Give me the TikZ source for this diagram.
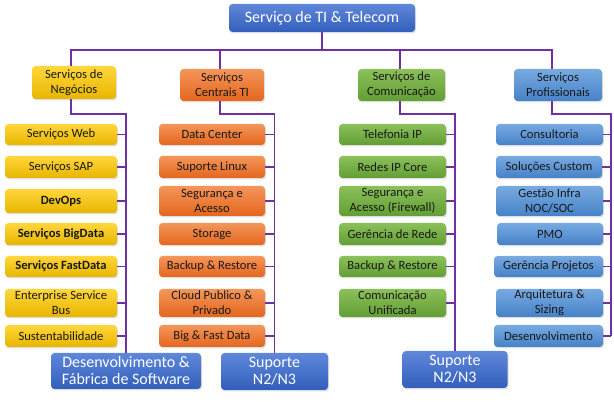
\documentclass[tikz,border=0pt]{standalone}
\usepackage{fontspec}
\setmainfont{Carlito}
\usetikzlibrary{shadows}
\definecolor{wire}{RGB}{112,48,160}
\definecolor{ytop}{RGB}{255,214,60}
\definecolor{ybot}{RGB}{232,182,0}
\definecolor{otop}{RGB}{244,150,90}
\definecolor{obot}{RGB}{228,102,30}
\definecolor{gtop}{RGB}{140,192,90}
\definecolor{gbot}{RGB}{98,158,52}
\definecolor{ltop}{RGB}{120,170,225}
\definecolor{lbot}{RGB}{70,130,200}
\definecolor{dtop}{RGB}{95,135,218}
\definecolor{dbot}{RGB}{50,95,188}
\tikzset{
  box/.style={rounded corners=3.5pt, align=center, inner sep=0pt,
    font=\fontsize{12.6}{15.3}\selectfont, text=black!90,
    drop shadow={opacity=0.25, shadow xshift=1pt, shadow yshift=-1.5pt}},
  ybox/.style={box, top color=ytop, bottom color=ybot},
  obox/.style={box, top color=otop, bottom color=obot},
  gbox/.style={box, top color=gtop, bottom color=gbot},
  lbox/.style={box, top color=ltop, bottom color=lbot},
  dbox/.style={box, top color=dtop, bottom color=dbot, text=white,
    font=\fontsize{16}{17}\selectfont},
  link/.style={draw=wire, line width=1.3pt},
}
\newcommand{\bx}[5]{% style, name, center, width, height
  \node[#1, minimum width=#4pt, minimum height=#5pt] (#2) at #3}
\begin{document}
\begin{tikzpicture}[x=1pt, y=-1pt]
\useasboundingbox (0,0) rectangle (614,406);

% top and second level
\bx{dbox}{top}{(322,18)}{186}{28} {Serviço de TI \& Telecom};
\bx{ybox}{neg}{(74,82.5)}{84}{33} {Serviços de\\Negócios};
\bx{obox}{cen}{(222,85)}{84}{32} {Serviços\\Centrais TI};
\bx{gbox}{com}{(401.5,85)}{87}{32} {Serviços de\\Comunicação};
\bx{lbox}{pro}{(558,85)}{88}{32} {Serviços\\Profissionais};

% business services
\bx{ybox}{y1}{(61,134.5)}{112}{21} {Serviços Web};
\bx{ybox}{y2}{(61,167)}{112}{22} {Serviços SAP};
\bx{ybox}{y3}{(61,201)}{112}{24} {\textbf{DevOps}};
\bx{ybox}{y4}{(61,234)}{112}{22} {\textbf{Serviços BigData}};
\bx{ybox}{y5}{(61,266.5)}{112}{21} {\textbf{Serviços FastData}};
\bx{ybox}{y6}{(61,303)}{112}{28} {Enterprise Service\\Bus};
\bx{ybox}{y7}{(61,336)}{112}{22} {Sustentabilidade};

% central IT services
\bx{obox}{o1}{(212,134.5)}{106}{21} {Data Center};
\bx{obox}{o2}{(212,167)}{106}{22} {Suporte Linux};
\bx{obox}{o3}{(212,201)}{106}{30} {Segurança e\\Acesso};
\bx{obox}{o4}{(212,234)}{106}{22} {Storage};
\bx{obox}{o5}{(212,266.5)}{106}{21} {Backup \& Restore};
\bx{obox}{o6}{(212,303)}{106}{28} {Cloud Publico \&\\Privado};
\bx{obox}{o7}{(212,336)}{106}{22} {Big \& Fast Data};

% communication services
\bx{gbox}{g1}{(392.5,134.5)}{107}{21} {Telefonia IP};
\bx{gbox}{g2}{(392.5,167)}{107}{22} {Redes IP Core};
\bx{gbox}{g3}{(392.5,201)}{107}{30} {Segurança e\\Acesso (Firewall)};
\bx{gbox}{g4}{(392.5,234)}{107}{22} {Gerência de Rede};
\bx{gbox}{g5}{(392.5,266.5)}{107}{21} {Backup \& Restore};
\bx{gbox}{g6}{(392.5,303)}{107}{28} {Comunicação\\Unificada};

% professional services
\bx{lbox}{l1}{(549.5,134.5)}{107}{21} {Consultoria};
\bx{lbox}{l2}{(549,167)}{106}{22} {Soluções Custom};
\bx{lbox}{l3}{(549.5,201)}{107}{30} {Gestão Infra\\NOC/SOC};
\bx{lbox}{l4}{(550,234)}{106}{22} {PMO};
\bx{lbox}{l5}{(548.5,266.5)}{109}{21} {Gerência Projetos};
\bx{lbox}{l6}{(549.5,303)}{107}{28} {Arquitetura \&\\Sizing};
\bx{lbox}{l7}{(548.5,336)}{109}{22} {Desenvolvimento};

% bottom teams
\bx{dbox}{dev}{(126,371)}{150}{36} {Desenvolvimento \&\\Fábrica de Software};
\bx{dbox}{sup1}{(274.5,371.5)}{107}{37} {Suporte\\N2/N3};
\bx{dbox}{sup2}{(455,369.5)}{105}{37} {Suporte\\N2/N3};

% bus corners
\coordinate (hub) at (322,50);
\coordinate (ky) at (126,114);
\coordinate (ko) at (274.5,114);
\coordinate (kg) at (455,114);
\coordinate (kl) at (611,114);

% connectors
\draw[link] (top.south) -- (hub);
\draw[link] ([xshift=-3pt]neg.north) |- (hub);
\draw[link] ([xshift=-2pt]cen.north) |- (hub);
\draw[link] ([xshift=-1.5pt]com.north) |- (hub);
\draw[link] ([xshift=-6pt]pro.north) |- (hub);

\draw[link] ([xshift=-3pt]neg.south) |- (ky) -- (dev.north);
\draw[link] ([xshift=-2pt]cen.south) |- (ko) -- (sup1.north);
\draw[link] ([xshift=-1.5pt]com.south) |- (kg) -- (sup2.north);
\draw[link] ([xshift=-6pt]pro.south) |- (kl) -- (kl |- l7.east);

\foreach \n in {y1,y2,y3,y4,y5,y6,y7} \draw[link] (\n.east) -- (\n.east -| ky);
\foreach \n in {o1,o2,o3,o4,o5,o6,o7} \draw[link] (\n.east) -- (\n.east -| ko);
\foreach \n in {g1,g2,g3,g4,g5,g6} \draw[link] (\n.east) -- (\n.east -| kg);
\foreach \n in {l1,l2,l3,l4,l5,l6,l7} \draw[link] (\n.east) -- (\n.east -| kl);
\end{tikzpicture}
\end{document}
